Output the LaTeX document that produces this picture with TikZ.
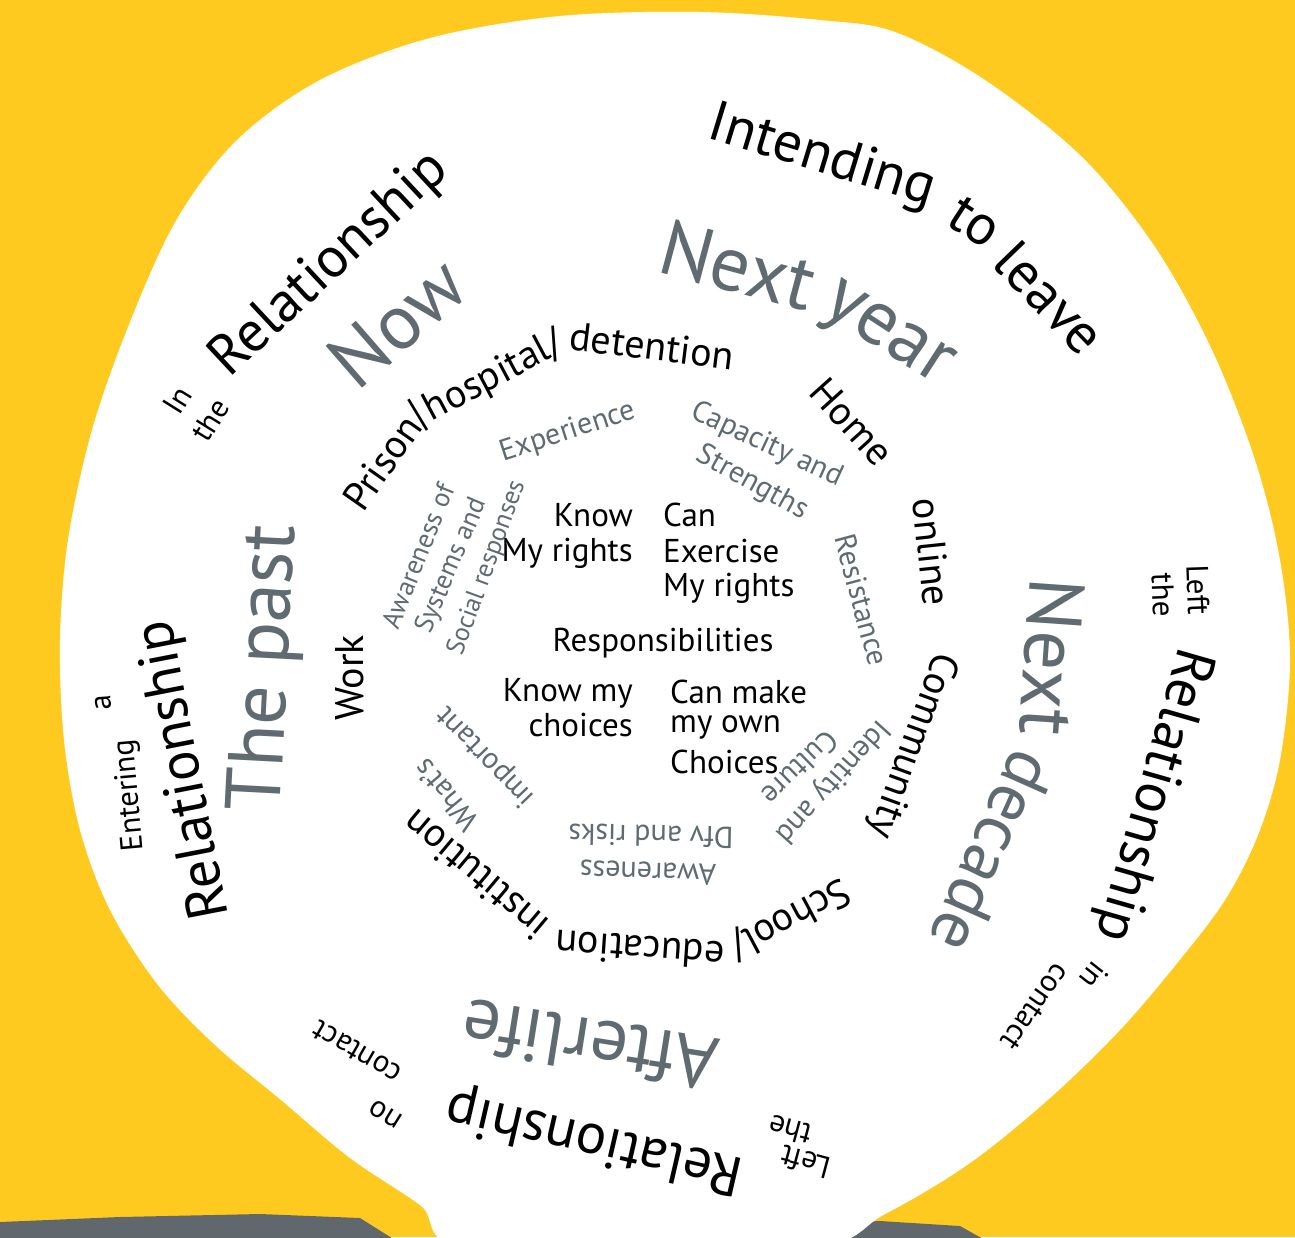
\documentclass[tikz,border=0pt]{standalone}
\usepackage{fontspec}
\setmainfont{PT Sans}
\definecolor{gold}{HTML}{FFCA1F}
\definecolor{slate}{HTML}{5F6A71}
\definecolor{rock}{HTML}{61686D}

\begin{document}
\begin{tikzpicture}
  [x=1pt,y=-1pt
  ,base/.style={inner sep=0pt,anchor=center}
  ,rel/.style={base,font=\fontsize{57}{57}\selectfont}
  ,era/.style={base,text=slate,font=\fontsize{78}{78}\selectfont}
  ,place/.style={base,font=\fontsize{40}{40}\selectfont}
  ,theme/.style={base,text=slate,font=\fontsize{30}{30}\selectfont}
  ,core/.style={base,font=\fontsize{33}{33}\selectfont}
  ,tag/.style={base,font=\fontsize{31}{31}\selectfont}
  ]

  \useasboundingbox (0,0) rectangle (1295,1237);

  % background
  \fill[gold] (0,0) rectangle (1295,1237);

  % hills
  \fill[rock] (0,1240) -- (0,1222) -- (120,1217) -- (260,1214)
    -- (360,1218) -- (395,1240) -- cycle;
  \fill[rock] (760,1240) -- (785,1226) -- (880,1221) -- (960,1226)
    -- (985,1240) -- cycle;

  % paper
  \fill[white] plot[smooth cycle, tension=0.55] coordinates {
    (560,16) (700,12) (820,20) (895,32) (985,80) (1082,157) (1155,247)
    (1212,350) (1255,460) (1280,560) (1290,660) (1280,760) (1258,835)
    (1225,900) (1178,962) (1120,1030) (1050,1098) (970,1163) (885,1214)
    (800,1250) (475,1250) (420,1205) (350,1158) (281,1100) (215,1045)
    (158,985) (110,910) (80,830) (64,740) (60,640) (68,540) (92,430)
    (130,322) (177,219) (237,140) (320,80) (430,38)};

  % relationship ring
  \node[tag, rotate=58] (inA) at (177,400) {In};
  \node[tag, rotate=58] (theA) at (210,420) {the};
  \node[rel, rotate=43] (relNow) at (330,265) {Relationship};
  \node[rel, rotate=-17] (intend) at (822,158) {Intending};
  \node[rel, rotate=-33] (to) at (975,222) {to};
  \node[rel, rotate=-46] (leave) at (1050,298) {leave};
  \node[tag, rotate=-88] (leftA) at (1198,590) {Left};
  \node[tag, rotate=-88] (theB) at (1163,595) {the};
  \node[rel, rotate=-106] (relNext) at (1152,795) {Relationship};
  \node[tag, rotate=-128] (inB) at (1094,976) {in};
  \node[tag, rotate=-125] (contactA) at (1035,1007) {contact};
  \node[rel, rotate=167] (relAfter) at (595,1140) {Relationship};
  \node[tag, rotate=165] (leftB) at (806,1162) {Left};
  \node[tag, rotate=165] (theC) at (790,1130) {the};
  \node[tag, rotate=148] (noA) at (386,1114) {no};
  \node[tag, rotate=150] (contactB) at (357,1052) {contact};
  \node[rel, rotate=101] (relPast) at (185,770) {Relationship};
  \node[tag, rotate=95] (enter) at (130,795) {Entering};
  \node[tag, rotate=95] (aA) at (103,703) {a};

  % time ring
  \node[era, rotate=41] (now) at (397,322) {Now};
  \node[era, rotate=-15] (next) at (738,265) {Next};
  \node[era, rotate=-33] (year) at (885,338) {year};
  \node[era, rotate=-94] (nextB) at (1052,657) {Next};
  \node[era, rotate=-114, font=\fontsize{70}{70}\selectfont]
    (decade) at (993,852) {decade};
  \node[era, rotate=171, font=\fontsize{75}{75}\selectfont]
    (after) at (590,1045) {Afterlife};
  \node[era, rotate=87] (past) at (268,668) {The past};

  % places ring
  \node[place, rotate=55] (prison) at (388,458) {Prison/};
  \node[place, rotate=28] (hosp) at (494,377) {hospital/};
  \node[place, rotate=-7] (deten) at (652,346) {detention};
  \node[place, rotate=-48] (home) at (852,422) {Home};
  \node[place, rotate=-84] (online) at (932,552) {online};
  \node[place, rotate=-110] (commun) at (912,745) {Community};
  \node[place, rotate=-152] (school) at (790,918) {School/};
  \node[place, rotate=176] (educ) at (640,950) {education};
  \node[place, rotate=140] (instit) at (475,875) {institution};
  \node[place, rotate=90] (work) at (350,678) {Work};

  % themes ring
  \node[theme, rotate=18] (exper) at (568,432) {Experience};
  \node[theme, rotate=-25] (capac) at (767,445) {Capacity and};
  \node[theme, rotate=-29] (streng) at (752,483) {Strengths};
  \node[theme, rotate=-75] (resist) at (862,600) {Resistance};
  \node[theme, rotate=-132] (ident) at (832,781) {Identity and};
  \node[theme, rotate=-136] (cult) at (800,768) {Culture};
  \node[theme, rotate=178] (aware) at (648,873) {Awareness};
  \node[theme, rotate=179] (dfv) at (651,836) {Dfv and risks};
  \node[theme, rotate=130] (whats) at (446,795) {What’s};
  \node[theme, rotate=134] (import) at (486,756) {important};
  \node[theme, rotate=68, font=\fontsize{27}{27}\selectfont]
    (awareB) at (418,556) {Awareness of};
  \node[theme, rotate=67, font=\fontsize{27}{27}\selectfont]
    (system) at (452,566) {Systems and};
  \node[theme, rotate=70, font=\fontsize{26}{26}\selectfont]
    (social) at (487,568) {Social responses};

  % centre
  \node[core, anchor=east] (know) at (633,515) {Know};
  \node[core, anchor=east] (rights) at (633,553) {My rights};
  \node[core, anchor=west] (can) at (663,515) {Can};
  \node[core, anchor=west] (exer) at (663,551) {Exercise};
  \node[core, anchor=west] (rightsB) at (663,588) {My rights};
  \node[core] (resp) at (663,643) {Responsibilities};
  \node[core, anchor=east] (choose) at (633,693) {Know my};
  \node[core, anchor=east] (choices) at (633,725) {choices};
  \node[core, anchor=west] (make) at (670,692) {Can make};
  \node[core, anchor=west] (own) at (670,727) {my own};
  \node[core, anchor=west] (choicesB) at (670,762) {Choices};

\end{tikzpicture}
\end{document}
